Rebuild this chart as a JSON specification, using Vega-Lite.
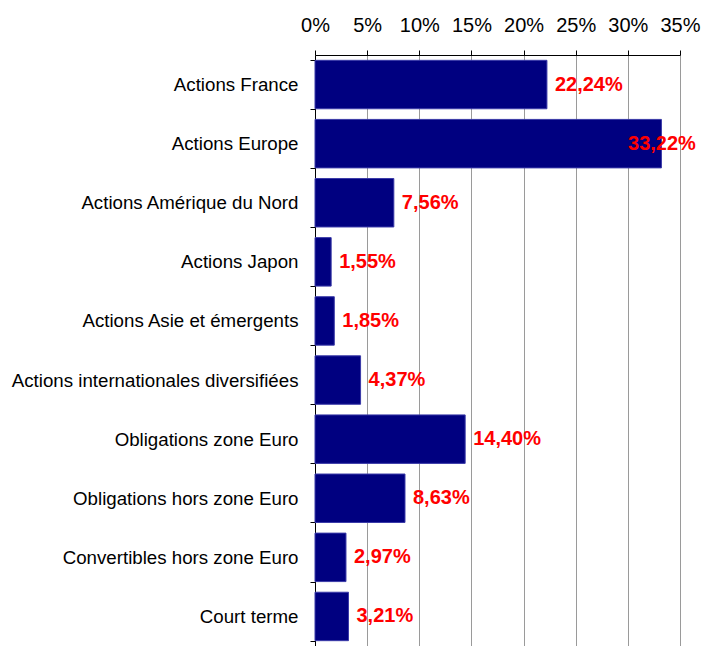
{
  "$schema": "https://vega.github.io/schema/vega-lite/v6.json",
  "width": 365,
  "height": 591,
  "padding": {"left": 11, "top": 15, "right": 0, "bottom": 0},
  "config": {
    "locale": {"number": {"decimal": ",", "thousands": " ", "grouping": [3], "currency": ["", " €"]}},
    "view": {"stroke": null},
    "font": "Liberation Sans"
  },
  "data": {
    "values": [
      {"category": "Actions France", "share": 0.2224},
      {"category": "Actions Europe", "share": 0.3322},
      {"category": "Actions Amérique du Nord", "share": 0.0756},
      {"category": "Actions Japon", "share": 0.0155},
      {"category": "Actions Asie et émergents", "share": 0.0185},
      {"category": "Actions internationales diversifiées", "share": 0.0437},
      {"category": "Obligations zone Euro", "share": 0.1440},
      {"category": "Obligations hors zone Euro", "share": 0.0863},
      {"category": "Convertibles hors zone Euro", "share": 0.0297},
      {"category": "Court terme", "share": 0.0321}
    ]
  },
  "encoding": {
    "y": {
      "field": "category",
      "type": "nominal",
      "sort": null,
      "scale": {"paddingInner": 0.18, "paddingOuter": 0.09},
      "axis": {
        "title": null,
        "orient": "left",
        "tickBand": "extent",
        "tickSize": 5,
        "labelPadding": 12,
        "labelFontSize": 18.7,
        "labelColor": "#000000",
        "labelLimit": 400,
        "domainColor": "#000000",
        "tickColor": "#000000",
        "grid": false
      }
    }
  },
  "layer": [
    {
      "mark": {"type": "bar", "color": "#000080", "stroke": "#3a3aa8", "strokeWidth": 1},
      "encoding": {
        "x": {
          "field": "share",
          "type": "quantitative",
          "scale": {"domain": [0, 0.35], "nice": false},
          "axis": {
            "orient": "top",
            "title": null,
            "values": [0, 0.05, 0.1, 0.15, 0.2, 0.25, 0.3, 0.35],
            "format": ".0%",
            "labelFontSize": 20,
            "labelColor": "#000000",
            "labelFlush": false,
            "labelOverlap": false,
            "tickSize": 5,
            "labelPadding": 15,
            "tickColor": "#000000",
            "domainColor": "#000000",
            "gridColor": "#9a9a9a",
            "gridOpacity": 1,
            "gridWidth": 1
          }
        }
      }
    },
    {
      "transform": [{"calculate": "min(datum.share, 0.2925)", "as": "labelx"}],
      "mark": {"type": "text", "align": "left", "baseline": "middle", "dx": 8, "fontWeight": "bold", "fontSize": 20, "color": "#ff0000"},
      "encoding": {
        "x": {"field": "labelx", "type": "quantitative"},
        "text": {"field": "share", "type": "quantitative", "format": ".2%"}
      }
    }
  ]
}
